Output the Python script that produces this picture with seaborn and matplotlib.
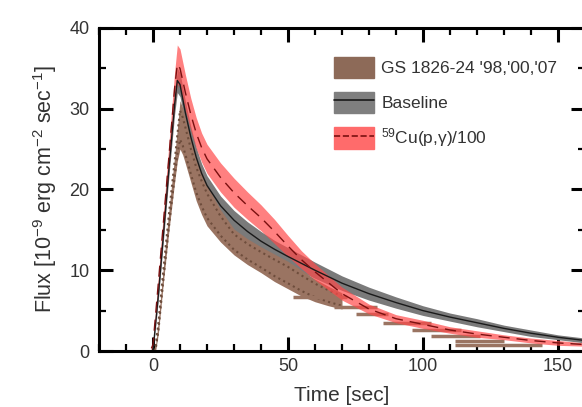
import numpy as np
import seaborn as sns
import matplotlib.pyplot as plt
from matplotlib.patches import Patch
from matplotlib.lines import Line2D

# Baseline model (line + band)
base_t = [-20, 0, 2, 4, 6, 8, 9, 10, 12, 14, 16, 18, 20, 25, 30, 35, 40, 45, 50,
          60, 70, 80, 90, 100, 110, 120, 130, 140, 150, 160]
base_y = [0, 0, 7, 15, 23, 30.5, 33.5, 33, 29.5, 26.5, 24, 22, 20.5, 18, 16.2, 14.8,
          13.6, 12.6, 11.7, 10.0, 8.4, 7.1, 6.0, 5.0, 4.2, 3.5, 2.8, 2.2, 1.7, 1.3]
base_err = [0, 0, 0.6, 0.8, 1.0, 1.2, 1.5, 1.5, 1.4, 1.3, 1.2, 1.2, 1.2, 1.2, 1.2,
            1.2, 1.2, 1.1, 1.1, 1.0, 0.9, 0.8, 0.7, 0.6, 0.5, 0.5, 0.4, 0.4, 0.3, 0.3]

# 59Cu(p,g)/100 model
cu_t = [-20, -1, 0, 2, 4, 6, 8, 9, 10, 12, 14, 16, 18, 20, 25, 30, 35, 40, 45, 50,
        55, 60, 70, 80, 90, 100, 110, 120, 130, 140, 150, 160]
cu_y = [0, 0, 0.8, 8.5, 16.5, 24.5, 32.5, 35.5, 35, 32, 29.3, 27, 25.2, 23.8, 21.5,
        19.6, 18, 16.5, 14.8, 13, 11.3, 9.8, 7.1, 5.2, 4.0, 3.3, 2.6, 2.1, 1.7, 1.3,
        1.0, 0.8]
cu_err = [0, 0, 0.3, 0.8, 1.2, 1.6, 2.0, 2.4, 2.4, 2.2, 2.0, 1.9, 1.8, 1.8, 1.8, 1.8,
          1.7, 1.6, 1.5, 1.3, 1.1, 1.0, 0.8, 0.6, 0.5, 0.5, 0.4, 0.4, 0.3, 0.3, 0.3, 0.2]

# GS 1826-24 observed bursts
obs_t = [0, 1, 2, 4, 6, 8, 9, 10, 11, 12, 14, 16, 18, 20, 25, 30, 35, 40, 45, 50,
         55, 60, 65, 70]
obs_y = [0, 0.5, 3, 10, 16.5, 22.5, 25.5, 28, 27.2, 26, 23.5, 21.2, 19.5, 18, 15.5,
         13.5, 12.3, 11.3, 10.3, 9.4, 8.4, 7.5, 6.8, 6.2]
obs_err = [0, 0.4, 0.8, 1.0, 1.3, 1.6, 2.0, 3.0, 2.9, 2.8, 2.6, 2.6, 2.6, 2.5, 2.0,
           1.6, 1.6, 1.6, 1.7, 1.7, 1.6, 1.4, 1.2, 1.0]

# late-time binned points (horizontal error bars)
bar_t = [62, 75, 81, 94, 105, 112, 121, 128]
bar_dt = [10, 8, 6, 9, 9, 9, 9, 16]
bar_y = [6.7, 5.4, 4.6, 3.5, 2.6, 1.8, 1.2, 0.8]

sns.set_theme(style='ticks')
plt.rcParams['font.family'] = ['Liberation Sans', 'DejaVu Sans']
plt.rcParams['mathtext.fontset'] = 'custom'
plt.rcParams['mathtext.rm'] = 'Liberation Sans'
plt.rcParams['mathtext.it'] = 'Liberation Sans:italic'
txt = '#333333'

fig = plt.figure(figsize=(5.82, 4.07), dpi=100)
ax = fig.add_axes([99 / 582, 56 / 407, 486 / 582, 323 / 407])

bt, by, be = np.array(base_t), np.array(base_y), np.array(base_err)
ct, cy, ce = np.array(cu_t), np.array(cu_y), np.array(cu_err)
ot, oy, oe = np.array(obs_t), np.array(obs_y), np.array(obs_err)

ax.fill_between(bt, by - be, by + be, color='#7a7a7a', lw=0, zorder=1)
ax.fill_between(ot, oy - oe, oy + oe, color='#9a7462', lw=0, zorder=2)
sns.lineplot(x=ot, y=oy + 0.6 * oe, ax=ax, color='#6e4d3c', lw=1.5, linestyle=':', zorder=3)
sns.lineplot(x=ot, y=oy - 0.6 * oe, ax=ax, color='#6e4d3c', lw=1.5, linestyle=':', zorder=3)
ax.errorbar(bar_t, bar_y, xerr=bar_dt, fmt='none', ecolor='#9a7462', elinewidth=2.5,
            capsize=0, zorder=3)
ax.fill_between(ct, cy - ce, cy + ce, color='#ff4a4a', alpha=0.7, lw=0, zorder=4)
sns.lineplot(x=bt, y=by, ax=ax, color='#1a1a1a', lw=1.0, zorder=5)
sns.lineplot(x=ct, y=cy, ax=ax, color='#7a1010', lw=1.0, linestyle=(0, (8, 5)), zorder=6)

ax.set_xlabel('Time [sec]', fontsize=15, color=txt, labelpad=8)
ax.set_ylabel('Flux [10$^{-9}$ erg cm$^{-2}$ sec$^{-1}$]', fontsize=15.5, color=txt,
              labelpad=7)

handles = [Patch(color='#8d6a58'),
           (Patch(color='#7f7f7f'), Line2D([], [], color='#1a1a1a', lw=1.2)),
           (Patch(color='#ff6b6b'), Line2D([], [], color='#7a1010', lw=1.2, linestyle='--'))]
labels = ["GS 1826-24 '98,'00,'07", 'Baseline', '$^{59}$Cu(p,γ)/100']
leg = ax.legend(handles, labels, loc='upper left', bbox_to_anchor=(0.483, 0.91),
                frameon=False, fontsize=12.5, handlelength=2.3, handleheight=1.5,
                labelspacing=0.78, handletextpad=0.45, borderpad=0, borderaxespad=0)
for t in leg.get_texts():
    t.set_color(txt)

# axis styling last
ax.set_xlim(-20, 160)
ax.set_ylim(0, 40)
ax.set_xticks([0, 50, 100, 150])
ax.set_xticks(np.arange(-20, 161, 10), minor=True)
ax.set_yticks([0, 10, 20, 30, 40])
ax.set_yticks(np.arange(0, 41, 5), minor=True)
ax.tick_params(which='major', direction='in', top=True, right=True, length=10, width=2.2,
               colors='black', labelcolor=txt, labelsize=13)
ax.tick_params(which='minor', direction='in', top=True, right=True, length=5, width=1.6,
               colors='black')
ax.tick_params(axis='y', which='major', pad=7)
ax.tick_params(axis='x', which='major', pad=5)
for s in ax.spines.values():
    s.set_linewidth(2.2)
    s.set_color('black')
    s.set_zorder(10)

fig.savefig('out.png', dpi=100)
